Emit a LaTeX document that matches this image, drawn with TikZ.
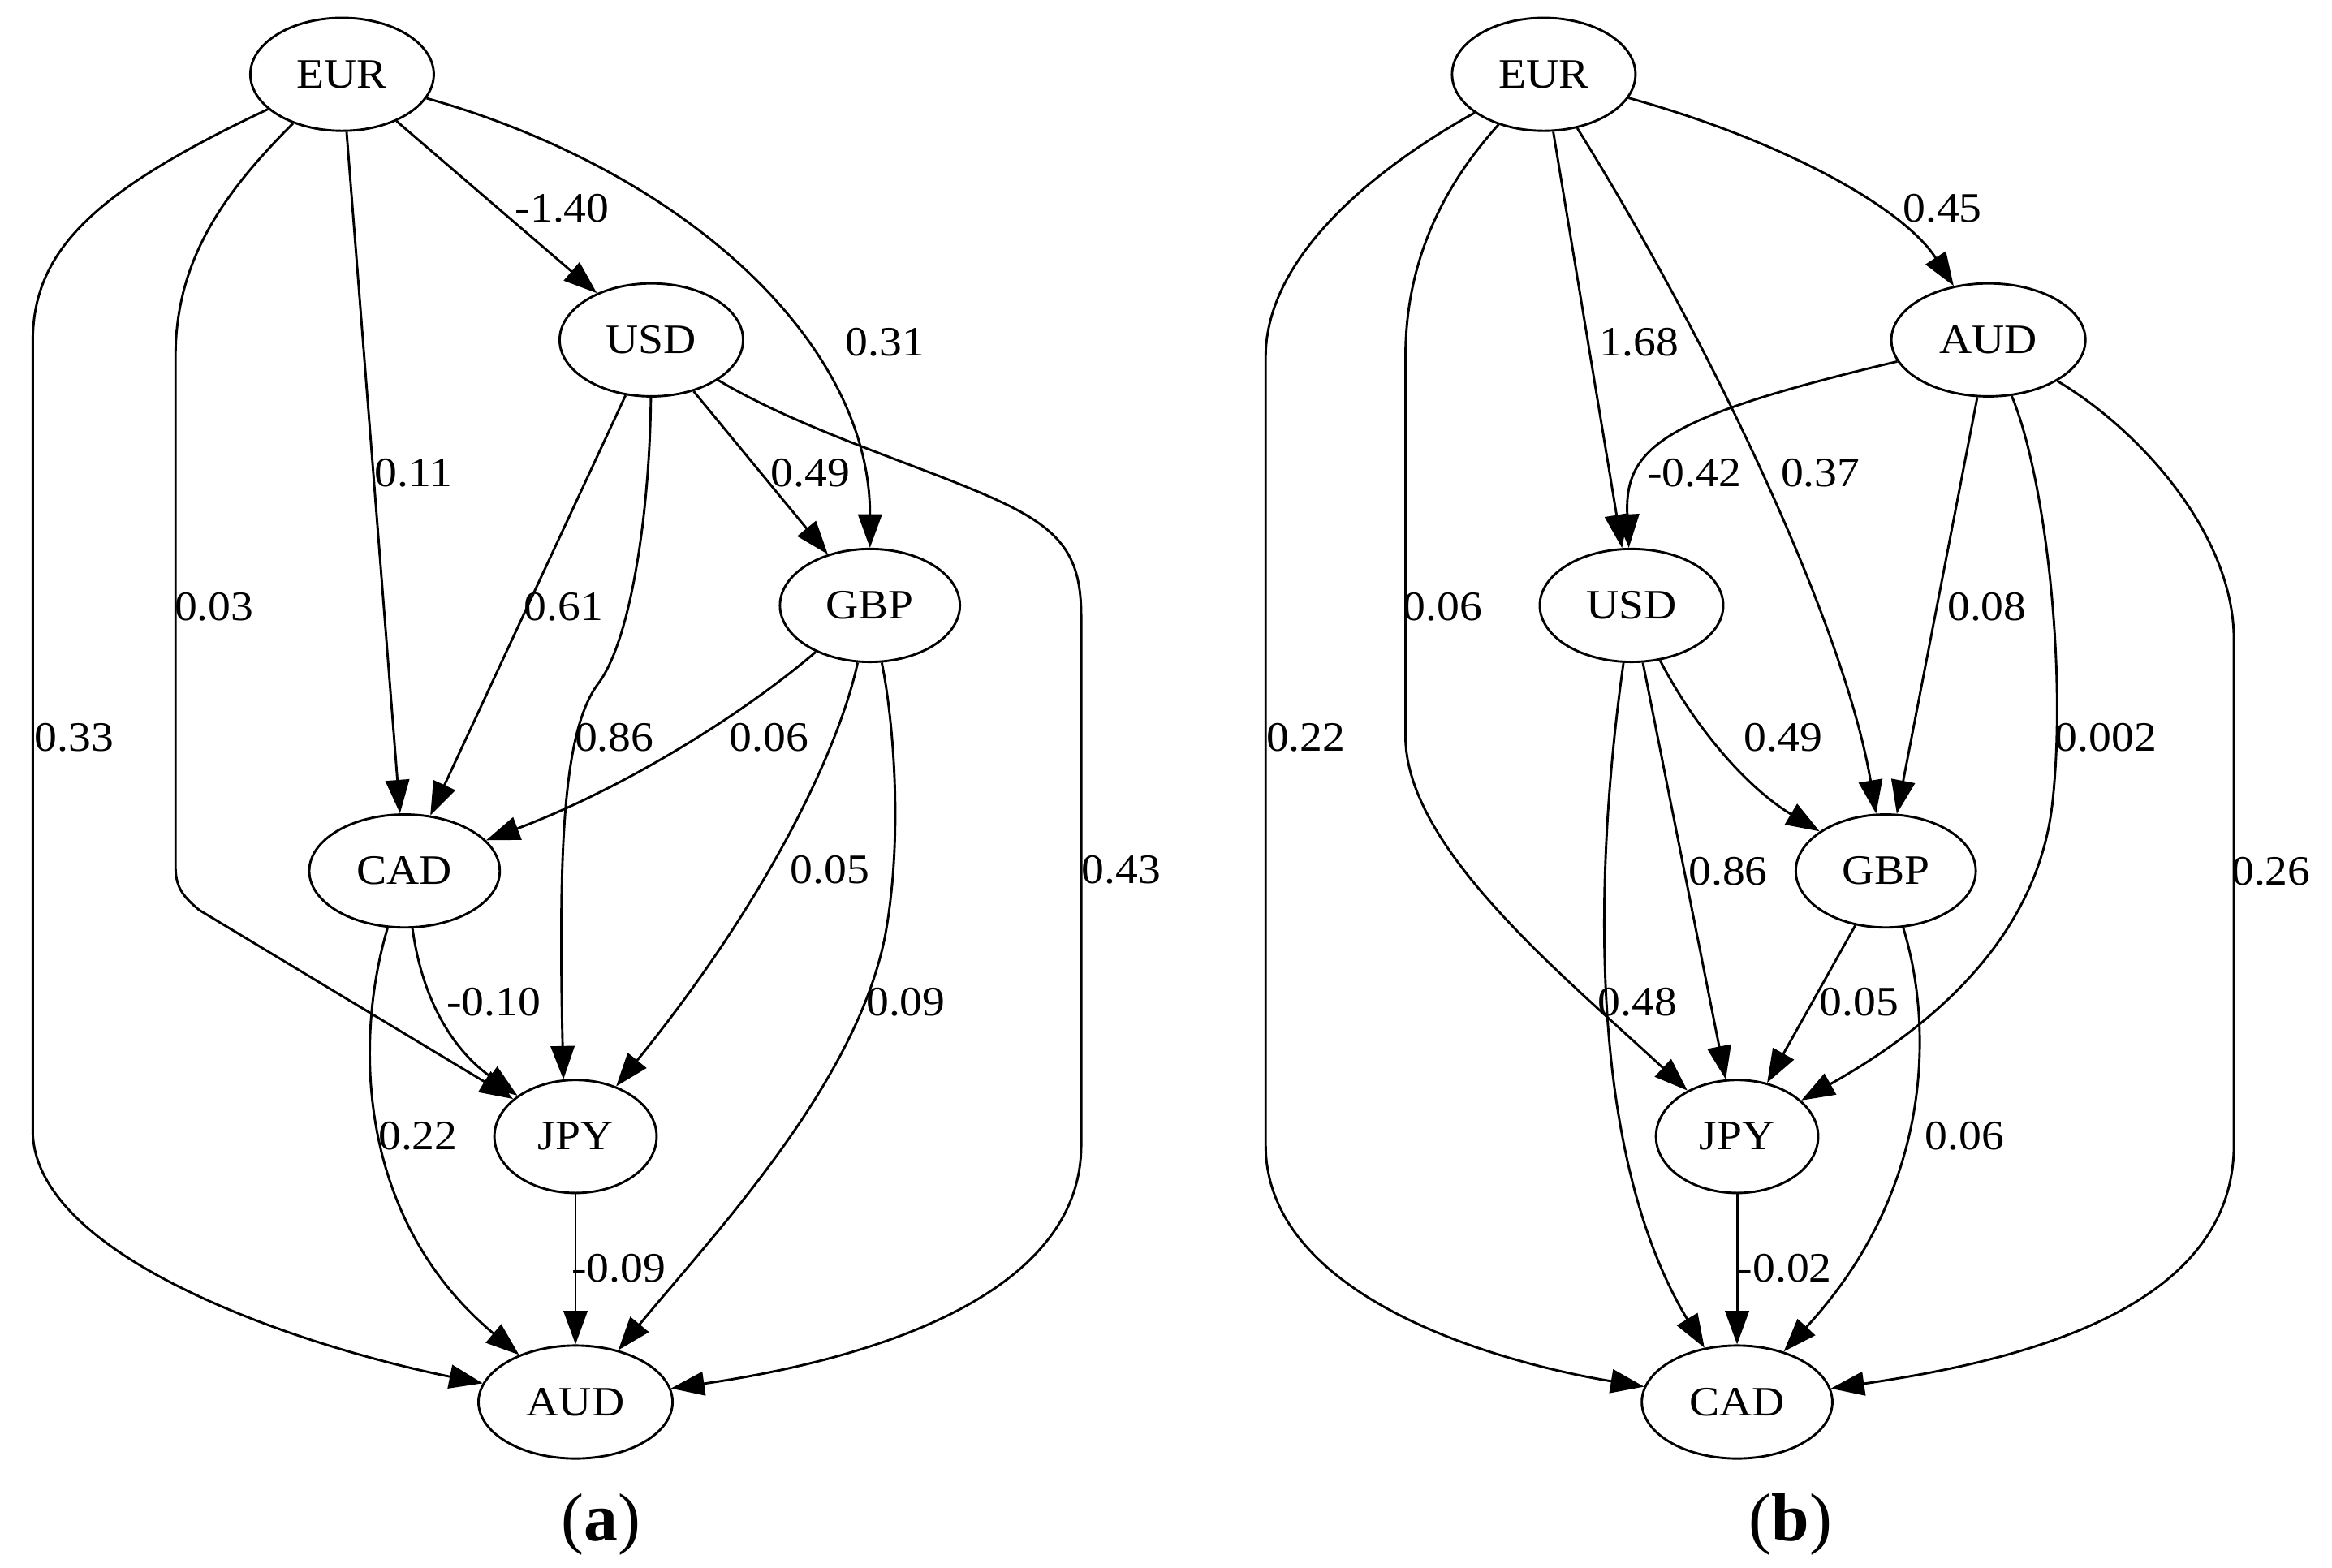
\documentclass[tikz,border=0pt]{standalone}
\usepackage{fontspec}
\setmainfont{Liberation Serif}[FakeStretch=1.08]
\newfontfamily\capfont{Liberation Serif}
\usetikzlibrary{shapes.geometric,arrows.meta}

\tikzset{
    cur/.style = {ellipse, draw, line width=0.9pt, inner xsep=0.265cm, inner ysep=0pt, minimum height=1.52cm},
    dep/.style = {line width=0.9pt, -{Triangle[length=4.5mm, width=3.2mm]}},
    wt/.style = {inner sep=0pt},
    capt/.style = {font=\capfont\fontsize{26}{30}\selectfont}
}

\begin{document}
\begin{tikzpicture}[node distance = 3.572cm, x=0.02cm, y=-0.02cm, font=\fontsize{16}{19}\selectfont]
    \useasboundingbox[fill=white] (0,0) rectangle (1568,1054);

    \node[cur] (aEUR) at (230,50) {EUR};
    \node[cur] (aUSD) [below of=aEUR, xshift=4.16cm] {USD};
    \node[cur] (aGBP) [below of=aUSD, xshift=2.94cm] {GBP};
    \node[cur] (aCAD) [below of=aGBP, xshift=-6.26cm] {CAD};
    \node[cur] (aJPY) [below of=aCAD, xshift=2.30cm] {JPY};
    \node[cur] (aAUD) [below of=aJPY] {AUD};

    \node[cur] (bEUR) at (1038,50) {EUR};
    \node[cur] (bAUD) [below of=bEUR, xshift=5.98cm] {AUD};
    \node[cur] (bUSD) [below of=bAUD, xshift=-4.80cm] {USD};
    \node[cur] (bGBP) [below of=bUSD, xshift=3.42cm] {GBP};
    \node[cur] (bJPY) [below of=bGBP, xshift=-2.00cm] {JPY};
    \node[cur] (bCAD) [below of=bJPY] {CAD};

    \draw[dep] (aEUR) .. controls (60,130) and (22,170) .. (22,230) -- (22,760) .. controls (22,845) and (200,905) .. (aAUD);
    \draw[dep] (aEUR) .. controls (150,130) and (118,175) .. (118,240) -- (118,582) .. controls (118,596) and (122,602) .. (134,612) -- (aJPY);
    \draw[dep] (aEUR) -- (aCAD);
    \draw[dep] (aEUR) -- (aUSD);
    \draw[dep] (aEUR) .. controls (460,115) and (585,230) .. (aGBP);
    \draw[dep] (aUSD) -- (aGBP);
    \draw[dep] (aUSD) -- (aCAD);
    \draw[dep] (aUSD) .. controls (437,340) and (425,430) .. (402,460) .. controls (380,490) and (375,560) .. (aJPY.102);
    \draw[dep] (aUSD) .. controls (540,290) and (625,315) .. (672,337) .. controls (715,357) and (727,375) .. (727,415) -- (727,770) .. controls (727,880) and (560,918) .. (aAUD);
    \draw[dep] (aGBP) .. controls (500,480) and (420,530) .. (aCAD);
    \draw[dep] (aGBP) .. controls (565,500) and (520,600) .. (aJPY);
    \draw[dep] (aGBP) .. controls (600,480) and (608,560) .. (595,630) .. controls (575,730) and (480,830) .. (aAUD);
    \draw[dep] (aCAD) .. controls (285,680) and (310,710) .. (aJPY);
    \draw[dep] (aCAD) .. controls (238,700) and (240,820) .. (aAUD);
    \draw[dep] (aJPY) -- (aAUD);

    \draw[dep] (bEUR) .. controls (930,110) and (851,170) .. (851,240) -- (851,770) .. controls (851,870) and (1000,915) .. (bCAD);
    \draw[dep] (bEUR) .. controls (975,120) and (945,170) .. (945,240) -- (945,495) .. controls (945,570) and (1050,655) .. (bJPY);
    \draw[dep] (bEUR) -- (bUSD);
    \draw[dep] (bEUR) .. controls (1150,230) and (1240,420) .. (bGBP);
    \draw[dep] (bEUR) .. controls (1200,95) and (1280,140) .. (bAUD);
    \draw[dep] (bAUD) .. controls (1120,280) and (1092,300) .. (bUSD);
    \draw[dep] (bAUD) -- (bGBP);
    \draw[dep] (bAUD) .. controls (1375,320) and (1390,450) .. (1380,540) .. controls (1370,630) and (1300,690) .. (bJPY);
    \draw[dep] (bAUD) .. controls (1440,290) and (1502,360) .. (1502,430) -- (1502,770) .. controls (1502,880) and (1360,915) .. (bCAD);
    \draw[dep] (bUSD) .. controls (1140,490) and (1175,530) .. (bGBP);
    \draw[dep] (bUSD) -- (bJPY);
    \draw[dep] (bUSD) .. controls (1070,600) and (1070,780) .. (bCAD);
    \draw[dep] (bGBP) -- (bJPY);
    \draw[dep] (bGBP) .. controls (1300,690) and (1300,800) .. (bCAD);
    \draw[dep] (bJPY) -- (bCAD);

    \node[wt] (aEURUSD) at (378,140) {-1.40};
    \node[wt] (aEURGBP) at (595,230) {0.31};
    \node[wt] (aEURCAD) at (278,318) {0.11};
    \node[wt] (aUSDGBP) at (545,318) {0.49};
    \node[wt] (aEURJPY) at (144,408) {0.03};
    \node[wt] (aUSDCAD) at (379,408) {0.61};
    \node[wt] (aEURAUD) at (50,496) {0.33};
    \node[wt] (aUSDJPY) at (413,496) {0.86};
    \node[wt] (aGBPCAD) at (517,496) {0.06};
    \node[wt] (aGBPJPY) at (558,585) {0.05};
    \node[wt] (aUSDAUD) at (754,585) {0.43};
    \node[wt] (aCADJPY) at (332,674) {-0.10};
    \node[wt] (aGBPAUD) at (609,674) {0.09};
    \node[wt] (aCADAUD) at (281,764) {0.22};
    \node[wt] (aJPYAUD) at (416,853) {-0.09};

    \node[wt] (bEURAUD) at (1306,140) {0.45};
    \node[wt] (bEURUSD) at (1102,230) {1.68};
    \node[wt] (bAUDUSD) at (1139,318) {-0.42};
    \node[wt] (bEURGBP) at (1224,318) {0.37};
    \node[wt] (bEURJPY) at (970,408) {0.06};
    \node[wt] (bAUDGBP) at (1336,408) {0.08};
    \node[wt] (bEURCAD) at (878,496) {0.22};
    \node[wt] (bUSDGBP) at (1199,496) {0.49};
    \node[wt] (bAUDJPY) at (1416,496) {0.002};
    \node[wt] (bUSDJPY) at (1162,586) {0.86};
    \node[wt] (bAUDCAD) at (1527,586) {0.26};
    \node[wt] (bUSDCAD) at (1101,674) {0.48};
    \node[wt] (bGBPJPY) at (1250,674) {0.05};
    \node[wt] (bGBPCAD) at (1321,764) {0.06};
    \node[wt] (bJPYCAD) at (1200,853) {-0.02};

    \node[capt] (capA) at (404,1025) {(\textbf{a})};
    \node[capt] (capB) at (1204,1025) {(\textbf{b})};

\end{tikzpicture}
\end{document}
